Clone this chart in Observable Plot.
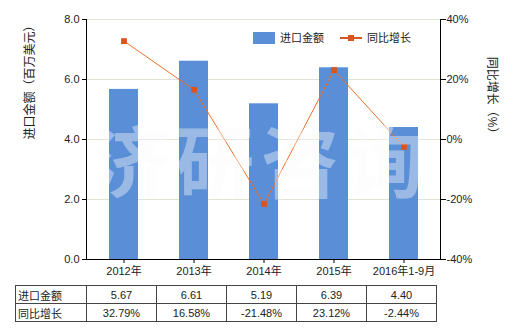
<!DOCTYPE html>
<html><head><meta charset="utf-8">
<script src="https://cdn.jsdelivr.net/npm/d3@7"></script>
<script src="https://cdn.jsdelivr.net/npm/@observablehq/plot@0.6"></script>
<style>
body{margin:0;background:#fff;}
#wrap{position:relative;width:520px;height:330px;overflow:hidden;font-family:"Liberation Sans","Noto Sans CJK SC",sans-serif;color:#222;}
#wrap svg{position:absolute;left:0;top:0;}
.legend{position:absolute;top:31px;font-size:11px;line-height:14px;display:flex;align-items:center;}
.legend svg{position:static !important;margin-right:5px;}
table{position:absolute;left:15px;top:285px;border-collapse:collapse;table-layout:fixed;font-size:11px;}
td{border:1px solid #444;height:17px;padding:0;text-align:center;white-space:nowrap;}
td.h{text-align:left;padding-left:2px;}
.wm{position:absolute;left:91px;top:113px;font-size:78px;font-weight:bold;letter-spacing:7px;color:rgba(250,250,250,0.4);font-family:"Noto Sans CJK SC",sans-serif;pointer-events:none;line-height:90px;white-space:nowrap;}
</style></head><body><div id="wrap"></div>
<script>
const categories = ["2012年","2013年","2014年","2015年","2016年1-9月"];
const importValues = [5.67,6.61,5.19,6.39,4.40];
const growthValues = [32.79,16.58,-21.48,23.12,-2.44];
const leftTicks = [0,2,4,6,8];
const rightTicks = [-40,-20,0,20,40];
const importLabels = ["5.67","6.61","5.19","6.39","4.40"];
const growthLabels = ["32.79%","16.58%","-21.48%","23.12%","-2.44%"];
const seriesNames = ["进口金额","同比增长"];
const leftTitle = "进口金额（百万美元）";
const rightTitle = "同比增长（%）";
const watermark = "济研咨询";

const barColor = "#5a8fd8", lineColor = "#e8702a", dotColor = "#d9541e";
const data = categories.map((c,i)=>({cat:c, value:importValues[i], growth:growthValues[i]}));
const g = d3.scaleLinear([-40,40],[0,8]);

const wrap = document.getElementById("wrap");
const plot = Plot.plot({
  width:520, height:282, marginTop:19, marginBottom:23, marginLeft:86, marginRight:80,
  style:{fontSize:"11px", fontFamily:'"Liberation Sans","Noto Sans CJK SC",sans-serif', color:"#222", background:"transparent"},
  x:{domain:categories, paddingInner:0.59, paddingOuter:0.295, label:null},
  y:{domain:[0,8], label:null},
  marks:[
    Plot.gridY(leftTicks.filter(d=>d>0), {stroke:"#e2e2d8", strokeOpacity:1}),
    Plot.barY(data, {x:"cat", y:"value", fill:barColor}),
    Plot.frame({anchor:"left", stroke:"#000"}),
    Plot.frame({anchor:"right", stroke:"#000"}),
    Plot.ruleY([0], {stroke:"#000"}),
    Plot.axisY(leftTicks, {anchor:"left", tickFormat:d=>d.toFixed(1), tickSize:4, tickPadding:3, label:null, stroke:"#000"}),
    Plot.axisY(rightTicks.map(g), {anchor:"right", tickFormat:d=>Math.round(g.invert(d))+"%", tickSize:5, tickPadding:1, label:null, stroke:"#000"}),
    Plot.axisX({tickSize:4, tickPadding:4, label:null, stroke:"#000"}),
    Plot.line(data, {x:"cat", y:d=>g(d.growth), stroke:lineColor, strokeWidth:1}),
    Plot.dot(data, {x:"cat", y:d=>g(d.growth), symbol:"square", r:3.3, fill:dotColor, stroke:"none"}),
    Plot.text([leftTitle], {frameAnchor:"left", dx:-56, rotate:-90, fontSize:12, fill:"#222"}),
    Plot.text([rightTitle], {frameAnchor:"right", dx:51, rotate:90, fontSize:12, fill:"#222"})
  ]
});
wrap.appendChild(plot);

// watermark
const wm = document.createElement("div");
wm.className = "wm"; wm.textContent = watermark;
wrap.appendChild(wm);

// legend
function legendItem(left, name, kind){
  const d = document.createElement("div");
  d.className = "legend"; d.style.left = left + "px";
  const s = d3.create("svg").attr("width",22).attr("height",12);
  if(kind==="bar") s.append("rect").attr("x",0).attr("y",0).attr("width",22).attr("height",12).attr("fill",barColor);
  else {
    s.append("line").attr("x1",0).attr("x2",22).attr("y1",6).attr("y2",6).attr("stroke",dotColor).attr("stroke-width",2);
    s.append("rect").attr("x",8).attr("y",3).attr("width",6).attr("height",6).attr("fill",dotColor);
  }
  d.appendChild(s.node());
  const t = document.createElement("span"); t.textContent = name; d.appendChild(t);
  wrap.appendChild(d);
}
legendItem(253, seriesNames[0], "bar");
legendItem(340, seriesNames[1], "line");

// table
const xs = plot.scale("x");
const step = xs.step;
const tbl = document.createElement("table");
const firstW = xs.range[0] - 15;
const colg = document.createElement("colgroup");
[firstW, ...categories.map(()=>step)].forEach(w=>{const c=document.createElement("col"); c.style.width=w+"px"; colg.appendChild(c);});
tbl.appendChild(colg);
[[seriesNames[0], importLabels],[seriesNames[1], growthLabels]].forEach(([name, labels])=>{
  const tr = document.createElement("tr");
  const th = document.createElement("td"); th.className="h"; th.textContent=name; tr.appendChild(th);
  labels.forEach(l=>{const td=document.createElement("td"); td.textContent=l; tr.appendChild(td);});
  tbl.appendChild(tr);
});
tbl.style.width = (firstW + step*categories.length) + "px";
wrap.appendChild(tbl);
</script></body></html>
